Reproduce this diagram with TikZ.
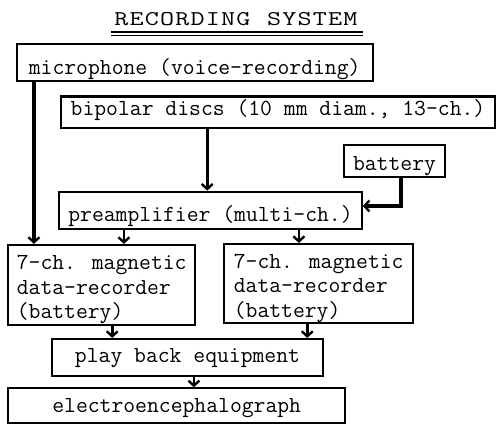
\documentclass[tikz,border=0pt]{standalone}
\usepackage{fontspec}
\usetikzlibrary{arrows.meta,calc}
\begin{document}
\begin{tikzpicture}[x=1pt,y=-1pt,
  tw/.style={font=\ttfamily\fontsize{23}{24.5}\selectfont\addfontfeature{FakeBold=2}},
  box/.style={draw, line width=2.2pt, inner sep=0pt, tw, rectangle},
  bs/.style={text height=#1pt, text depth=0pt},
  arr/.style={line width=2.6pt, -{Straight Barb[length=5pt,width=11pt,line width=2.4pt]}},
]
\useasboundingbox (0,0) rectangle (496,424);
% title
\node[inner sep=0pt, anchor=base, xscale=1.3, transform shape, font=\ttfamily\fontsize{21}{24}\selectfont\addfontfeature{FakeBold=1.5}] (title) at (236,25)
  {\hbox to 187pt{R\hfill E\hfill C\hfill O\hfill R\hfill D\hfill I\hfill N\hfill G\hfill\hbox to 11pt{}\hfill S\hfill Y\hfill S\hfill T\hfill E\hfill M}};
\draw[line width=1.2pt] (111,32) -- (363,32);
\draw[line width=1.2pt] (111,35.5) -- (363,35.5);
% boxes
\node[box, minimum width=356pt, minimum height=36.7pt, bs=22.7] (mic) at (194.7,62.65) {microphone (voice-recording)};
\node[box, minimum width=434pt, minimum height=31.8pt, bs=5.2] (bip) at (278,112.4) {bipolar discs (10 mm diam., 13-ch.)};
\node[box, minimum width=101pt, minimum height=32pt, bs=18] (bat) at (394.5,161) {battery};
\node[box, minimum width=302.4pt, minimum height=37pt, bs=23] (pre) at (210.5,210.2) {preamplifier (multi-ch.)};
\node[box, minimum width=186.7pt, minimum height=80pt, align=left] (lrec) at (101.7,285) {\rule{0pt}{24pt}7-ch. magnetic\\data-recorder\\(battery)};
\node[box, minimum width=189.3pt, minimum height=78.7pt, align=left] (rrec) at (318.7,283.4) {\rule{0pt}{24pt}7-ch. magnetic\\data-recorder\\(battery)};
\node[box, minimum width=271.6pt, minimum height=37pt, bs=10.4] (pb) at (187.5,357.5) {play back equipment};
\node[box, minimum width=336.7pt, minimum height=34.7pt, bs=14] (eeg) at (176.7,405.7) {electroencephalograph};
% connectors
\coordinate (m1) at ([xshift=18.3pt]mic.south west);
\draw[arr, line width=3.8pt] (m1) -- (m1 |- lrec.north);
\coordinate (b1) at ([xshift=147.3pt]bip.south west);
\draw[arr] (b1) -- (b1 |- pre.north);
\draw[arr, line width=3.2pt] ([xshift=6.5pt]bat.south) |- ([yshift=4.2pt]pre.east);
\coordinate (p1) at ([xshift=65.7pt]pre.south west);
\draw[arr] (p1) -- (p1 |- lrec.north);
\coordinate (p2) at ([xshift=240.7pt]pre.south west);
\draw[arr] (p2) -- (p2 |- rrec.north);
\coordinate (r1) at ([xshift=105pt]lrec.south west);
\draw[arr] (r1) -- (r1 |- pb.north);
\coordinate (r2) at ([xshift=84.3pt]rrec.south west);
\draw[arr] (r2) -- (r2 |- pb.north);
\coordinate (q1) at ([xshift=143.3pt]pb.south west);
\draw[arr] (q1) -- (q1 |- eeg.north);
\end{tikzpicture}
\end{document}
